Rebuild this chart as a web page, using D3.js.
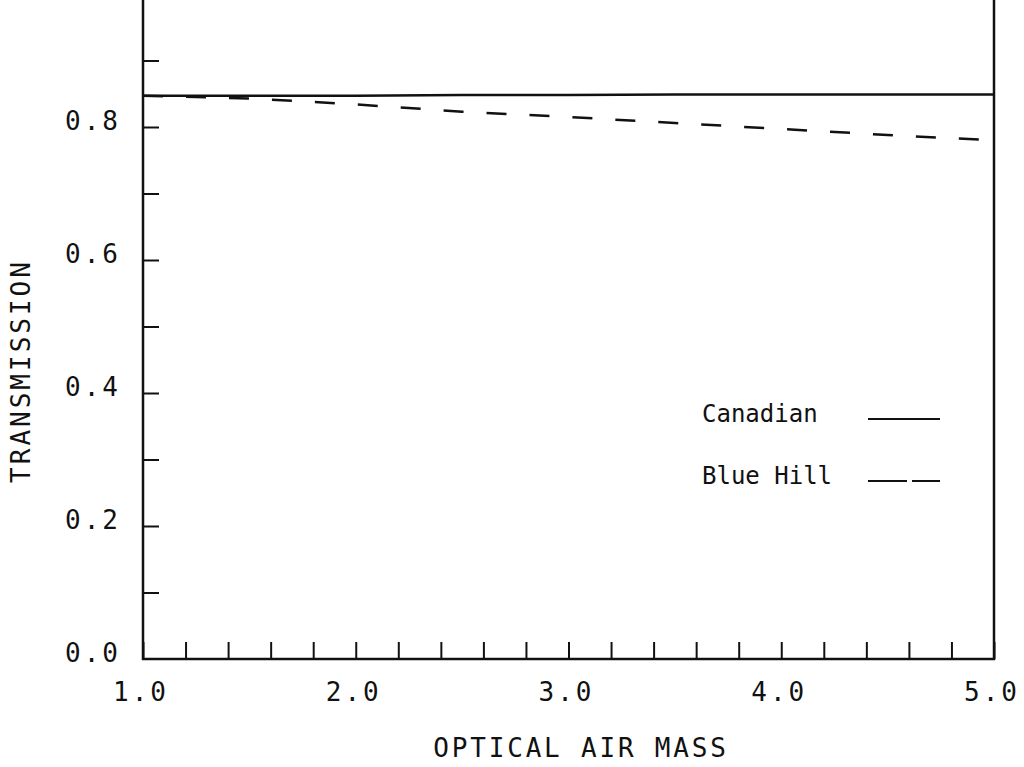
<!DOCTYPE html>
<html>
<head>
<meta charset="utf-8">
<script src="https://cdn.jsdelivr.net/npm/d3@7/dist/d3.min.js"></script>
<style>
  html, body { margin: 0; padding: 0; background: #fff; }
  svg { display: block; }
  text { font-family: "DejaVu Sans Mono", monospace; fill: #111; }
</style>
</head>
<body>
<svg id="chart" width="1024" height="767"></svg>
<script>
// Optical air mass samples
const airMass = [1.0, 1.5, 2.0, 2.5, 3.0, 3.5, 4.0, 4.5, 5.0];
// Transmission for each atmosphere model
const canadian = [0.847, 0.847, 0.847, 0.848, 0.848, 0.849, 0.849, 0.849, 0.849];
const blueHill = [0.847, 0.843, 0.834, 0.823, 0.815, 0.806, 0.797, 0.788, 0.780];
// Axis tick labels
const xTickLabels = ["1.0", "2.0", "3.0", "4.0", "5.0"];
const yTickLabels = ["0.0", "0.2", "0.4", "0.6", "0.8"];
const legendNames = ["Canadian", "Blue Hill"];

const svg = d3.select("#chart");
const plotLeft = 143, plotRight = 994, plotBottom = 659, plotTop = -6;

const x = d3.scaleLinear().domain([1, 5]).range([plotLeft, plotRight]);
const y = d3.scaleLinear().domain([0, 1]).range([plotBottom, plotTop]);

// Frame
svg.append("rect")
  .attr("x", plotLeft).attr("y", plotTop)
  .attr("width", plotRight - plotLeft).attr("height", plotBottom - plotTop)
  .attr("fill", "none").attr("stroke", "#111").attr("stroke-width", 2.5);

// Bottom ticks every 0.2, pointing inward
const xAxis = d3.axisBottom(x)
  .tickValues(d3.range(1, 5.001, 0.2))
  .tickSize(-17).tickFormat("");
svg.append("g").attr("transform", `translate(0,${plotBottom})`).call(xAxis)
  .call(g => g.select(".domain").remove())
  .call(g => g.selectAll("line").attr("stroke", "#111").attr("stroke-width", 2));

// Left ticks every 0.1, pointing inward
const yAxis = d3.axisLeft(y)
  .tickValues(d3.range(0.1, 0.95, 0.1))
  .tickSize(-16).tickFormat("");
svg.append("g").attr("transform", `translate(${plotLeft},0)`).call(yAxis)
  .call(g => g.select(".domain").remove())
  .call(g => g.selectAll("line").attr("stroke", "#111").attr("stroke-width", 2));

// Tick labels
svg.append("g").selectAll("text").data(xTickLabels).join("text")
  .attr("x", d => x(+d) - 2)
  .attr("y", 701)
  .attr("text-anchor", "middle")
  .attr("font-size", 26)
  .attr("letter-spacing", 3)
  .text(d => d);

svg.append("g").selectAll("text").data(yTickLabels).join("text")
  .attr("x", 121)
  .attr("y", d => y(+d) + 3)
  .attr("text-anchor", "end")
  .attr("font-size", 26)
  .attr("letter-spacing", 3)
  .text(d => d);

// Axis titles
svg.append("text")
  .attr("x", 581).attr("y", 757)
  .attr("text-anchor", "middle")
  .attr("font-size", 26).attr("letter-spacing", 2.8)
  .text("OPTICAL AIR MASS");

svg.append("text")
  .attr("transform", "translate(30,371) rotate(-90)")
  .attr("text-anchor", "middle")
  .attr("font-size", 26).attr("letter-spacing", 3)
  .text("TRANSMISSION");

// Curves
const line = d3.line().x((d, i) => x(airMass[i])).y(d => y(d));

svg.append("path").datum(canadian)
  .attr("d", line).attr("fill", "none")
  .attr("stroke", "#111").attr("stroke-width", 2.5);

svg.append("path").datum(blueHill)
  .attr("d", line).attr("fill", "none")
  .attr("stroke", "#111").attr("stroke-width", 2.5)
  .attr("stroke-dasharray", "20,23");

// Legend
const legendY = [414, 476];
const legend = svg.append("g");
legend.selectAll("text").data(legendNames).join("text")
  .attr("x", 702).attr("y", (d, i) => legendY[i] + 8)
  .attr("font-size", 24)
  .text(d => d);
legend.append("line")
  .attr("x1", 868).attr("x2", 940).attr("y1", legendY[0] + 5).attr("y2", legendY[0] + 5)
  .attr("stroke", "#111").attr("stroke-width", 2);
legend.append("line")
  .attr("x1", 868).attr("x2", 940).attr("y1", legendY[1] + 5).attr("y2", legendY[1] + 5)
  .attr("stroke", "#111").attr("stroke-width", 2)
  .attr("stroke-dasharray", "39,5");
</script>
</body>
</html>
